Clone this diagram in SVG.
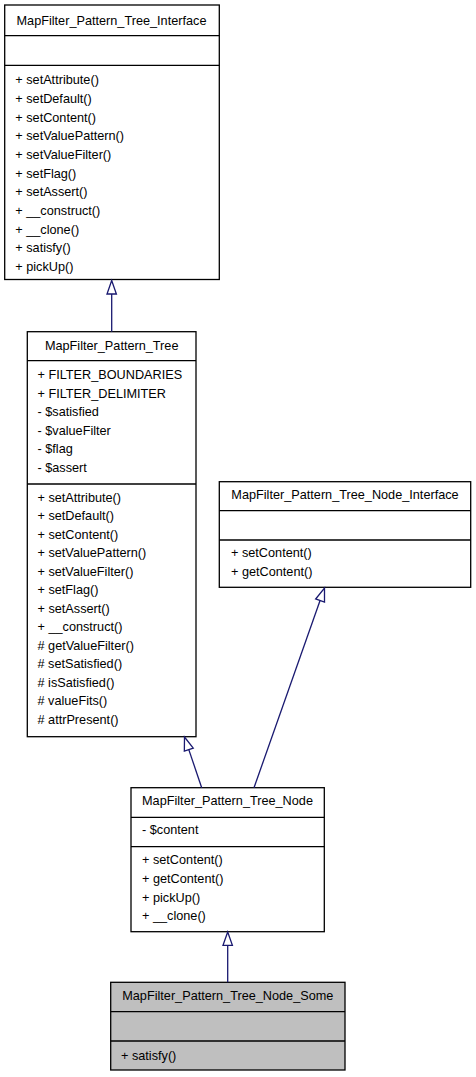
<svg xmlns="http://www.w3.org/2000/svg" width="476" height="1077" viewBox="0 0 476 1077">
<style>
.box{fill:#ffffff;stroke:#000000;stroke-width:1.3}
.grey{fill:#bfbfbf}
.sep{stroke:#000000;stroke-width:1.3}
text{font-family:"Liberation Sans",Arial,Helvetica,sans-serif;font-size:12.7px;fill:#000000}
.t{text-anchor:middle}
.edge{stroke:#191970;stroke-width:1.3;fill:none}
.head{stroke:#191970;stroke-width:1.3;fill:#ffffff}
</style>
<rect width="476" height="1077" fill="#ffffff"/>
<g id="node-interface">
<rect class="box" x="4.7" y="5" width="214.6" height="274.5"/>
<line class="sep" x1="4.7" y1="35.7" x2="219.3" y2="35.7"/>
<line class="sep" x1="4.7" y1="65.3" x2="219.3" y2="65.3"/>
<text class="t" x="111.5" y="25">MapFilter_Pattern_Tree_Interface</text>
<text x="15.3" y="84.3">+ setAttribute()</text>
<text x="15.3" y="102.95">+ setDefault()</text>
<text x="15.3" y="121.6">+ setContent()</text>
<text x="15.3" y="140.25">+ setValuePattern()</text>
<text x="15.3" y="158.9">+ setValueFilter()</text>
<text x="15.3" y="177.55">+ setFlag()</text>
<text x="15.3" y="196.2">+ setAssert()</text>
<text x="15.3" y="214.85">+ __construct()</text>
<text x="15.3" y="233.5">+ __clone()</text>
<text x="15.3" y="252.15">+ satisfy()</text>
<text x="15.3" y="270.8">+ pickUp()</text>
</g>
<g id="node-tree">
<rect class="box" x="27.3" y="331.7" width="168.7" height="405"/>
<line class="sep" x1="27.3" y1="360.7" x2="196" y2="360.7"/>
<line class="sep" x1="27.3" y1="484" x2="196" y2="484"/>
<text class="t" x="111.7" y="349.5">MapFilter_Pattern_Tree</text>
<text x="37.5" y="379">+ FILTER_BOUNDARIES</text>
<text x="37.5" y="397.6">+ FILTER_DELIMITER</text>
<text x="37.5" y="416.2">- $satisfied</text>
<text x="37.5" y="434.8">- $valueFilter</text>
<text x="37.5" y="453.4">- $flag</text>
<text x="37.5" y="472">- $assert</text>
<text x="37.5" y="501.6">+ setAttribute()</text>
<text x="37.5" y="520.1">+ setDefault()</text>
<text x="37.5" y="538.6">+ setContent()</text>
<text x="37.5" y="557.1">+ setValuePattern()</text>
<text x="37.5" y="575.6">+ setValueFilter()</text>
<text x="37.5" y="594.1">+ setFlag()</text>
<text x="37.5" y="612.6">+ setAssert()</text>
<text x="37.5" y="631.1">+ __construct()</text>
<text x="37.5" y="649.6"># getValueFilter()</text>
<text x="37.5" y="668.1"># setSatisfied()</text>
<text x="37.5" y="686.6"># isSatisfied()</text>
<text x="37.5" y="705.1"># valueFits()</text>
<text x="37.5" y="723.6"># attrPresent()</text>
</g>
<g id="node-node-interface">
<rect class="box" x="219.3" y="481.7" width="251.4" height="105.6"/>
<line class="sep" x1="219.3" y1="510.7" x2="470.7" y2="510.7"/>
<line class="sep" x1="219.3" y1="540" x2="470.7" y2="540"/>
<text class="t" x="345" y="499.3">MapFilter_Pattern_Tree_Node_Interface</text>
<text x="231" y="557">+ setContent()</text>
<text x="231" y="576">+ getContent()</text>
</g>
<g id="node-tree-node">
<rect class="box" x="131" y="787.7" width="193.3" height="144"/>
<line class="sep" x1="131" y1="817.3" x2="324.3" y2="817.3"/>
<line class="sep" x1="131" y1="846.7" x2="324.3" y2="846.7"/>
<text class="t" x="227.5" y="805">MapFilter_Pattern_Tree_Node</text>
<text x="142" y="834.3">- $content</text>
<text x="142" y="864.3">+ setContent()</text>
<text x="142" y="883">+ getContent()</text>
<text x="142" y="901.5">+ pickUp()</text>
<text x="142" y="919.5">+ __clone()</text>
</g>
<g id="node-tree-node-some">
<rect class="box grey" x="110.7" y="982.3" width="234.3" height="87.7"/>
<line class="sep" x1="110.7" y1="1011.7" x2="345" y2="1011.7"/>
<line class="sep" x1="110.7" y1="1041" x2="345" y2="1041"/>
<text class="t" x="227.8" y="1000">MapFilter_Pattern_Tree_Node_Some</text>
<text x="121" y="1060">+ satisfy()</text>
</g>
<g id="connectors">
<line class="edge" x1="111.7" y1="331.7" x2="111.7" y2="294"/>
<polygon class="head" points="111.7,280.5 107,294 116.4,294"/>
<line class="edge" x1="201.7" y1="787.7" x2="188.8" y2="749.6"/>
<polygon class="head" points="184.5,737 193.25,748.1 184.35,751.1"/>
<line class="edge" x1="254" y1="787.7" x2="320.07" y2="600.54"/>
<polygon class="head" points="324.5,588 324.5,602.1 315.64,598.98"/>
<line class="edge" x1="227.7" y1="982.3" x2="227.7" y2="945.3"/>
<polygon class="head" points="227.7,932 223,945.3 232.4,945.3"/>
</g>
</svg>
